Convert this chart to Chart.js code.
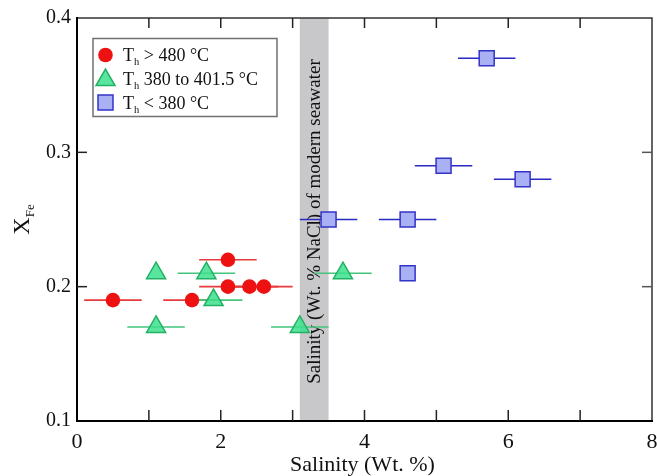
<!DOCTYPE html>
<html>
<head>
<meta charset="utf-8">
<script src="https://cdn.jsdelivr.net/npm/chart.js@4.4.1/dist/chart.umd.min.js"></script>
<style>
html,body{margin:0;padding:0;background:#fff;}
canvas{display:block;}
</style>
</head>
<body>
<canvas id="c" width="657" height="476"></canvas>
<script>
// ---- Data ----
const redX   = [0.5, 1.6, 2.1, 2.1, 2.4, 2.6];
const redY   = [0.19, 0.19, 0.22, 0.20, 0.20, 0.20];
const redErr = [0.4, 0.4, 0.4, 0.4, 0.4, 0.4];

const greenX   = [1.1, 1.8, 1.1, 1.9, 3.1, 3.7];
const greenY   = [0.21, 0.21, 0.17, 0.19, 0.17, 0.21];
const greenErr = [0, 0.4, 0.4, 0.4, 0.4, 0.4];

const blueX   = [5.7, 5.1, 6.2, 3.5, 4.6, 4.6];
const blueY   = [0.37, 0.29, 0.28, 0.25, 0.25, 0.21];
const blueErr = [0.4, 0.4, 0.4, 0.4, 0.4, 0];

const seawaterBand = [3.1, 3.5];
const xTicks = [0, 2, 4, 6, 8];
const yTicks = [0.1, 0.2, 0.3, 0.4];
const legendLabels = [["T", "h", " > 480 °C"], ["T", "h", " 380 to 401.5 °C"], ["T", "h", " < 380 °C"]];
const bandLabel = "Salinity (Wt. % NaCl) of modern seawater";
const xTitle = "Salinity (Wt. %)";

const SERIF = '"Liberation Serif", "Times New Roman", serif';

const RED = '#ee1111', GREEN_F = 'rgba(60,225,140,0.85)', GREEN_L = '#22b064', GREEN_BAR = '#44c47c';
const BLUE_F = '#aab0f4', BLUE_L = '#3333c8';

function pts(xs, ys){ return xs.map((x,i)=>({x:x, y:ys[i]})); }

const errSets = [
  {xs:redX, ys:redY, e:redErr, color:'#e83a3a'},
  {xs:greenX, ys:greenY, e:greenErr, color:GREEN_BAR},
  {xs:blueX, ys:blueY, e:blueErr, color:'#2a2ac4'}
];

function drawMarker(ctx, style, x, y){
  ctx.save();
  if(style==='circle'){
    ctx.beginPath(); ctx.arc(x,y,7.3,0,Math.PI*2); ctx.fillStyle=RED; ctx.fill();
  } else if(style==='triangle'){
    const r=11;
    ctx.beginPath();
    ctx.moveTo(x, y-r);
    ctx.lineTo(x+r*Math.sin(Math.PI/3), y+r*0.5);
    ctx.lineTo(x-r*Math.sin(Math.PI/3), y+r*0.5);
    ctx.closePath();
    ctx.fillStyle=GREEN_F; ctx.fill(); ctx.lineWidth=1.5; ctx.strokeStyle=GREEN_L; ctx.stroke();
  } else {
    const h=7.5;
    ctx.fillStyle=BLUE_F; ctx.fillRect(x-h,y-h,2*h,2*h);
    ctx.lineWidth=1.5; ctx.strokeStyle=BLUE_L; ctx.strokeRect(x-h,y-h,2*h,2*h);
  }
  ctx.restore();
}

const overlay = {
  id: 'overlay',
  beforeDatasetsDraw(chart){
    const {ctx, chartArea:a, scales:{x, y}} = chart;
    ctx.save();
    // seawater band
    const x0 = x.getPixelForValue(seawaterBand[0]), x1 = x.getPixelForValue(seawaterBand[1]);
    ctx.fillStyle = '#c8c8ca';
    ctx.fillRect(x0, a.top, x1-x0, a.bottom-a.top);
    // band label
    ctx.save();
    ctx.translate((x0+x1)/2 + 0.5, (a.top+a.bottom)/2 + 2);
    ctx.rotate(-Math.PI/2);
    ctx.font = '19px ' + SERIF;
    ctx.fillStyle = '#111';
    ctx.textAlign = 'center';
    ctx.textBaseline = 'middle';
    ctx.fillText(bandLabel, 0, 0);
    ctx.restore();
    // error bars
    ctx.lineWidth = 1.6;
    errSets.forEach(s=>{
      ctx.strokeStyle = s.color;
      s.xs.forEach((xv,i)=>{
        if(!s.e[i]) return;
        const py = y.getPixelForValue(s.ys[i]);
        ctx.beginPath();
        ctx.moveTo(x.getPixelForValue(xv - s.e[i]), py);
        ctx.lineTo(x.getPixelForValue(xv + s.e[i]), py);
        ctx.stroke();
      });
    });
    ctx.restore();
  },
  afterDatasetsDraw(chart){
    const {ctx, chartArea:a, scales:{x, y}} = chart;
    ctx.save();
    // frame
    ctx.strokeStyle = '#333'; ctx.lineWidth = 1.5;
    ctx.beginPath();
    ctx.moveTo(a.left, a.top); ctx.lineTo(a.right, a.top); ctx.lineTo(a.right, a.bottom);
    ctx.stroke();
    ctx.strokeStyle = '#000'; ctx.lineWidth = 2;
    ctx.beginPath();
    ctx.moveTo(a.left, a.top-1); ctx.lineTo(a.left, a.bottom); ctx.lineTo(a.right+1, a.bottom);
    ctx.stroke();
    // ticks
    ctx.lineWidth = 1.5; ctx.strokeStyle = '#222';
    for(let v=1; v<8; v++){
      const px = x.getPixelForValue(v);
      ctx.beginPath(); ctx.moveTo(px, a.bottom); ctx.lineTo(px, a.bottom-11); ctx.stroke();
      ctx.beginPath(); ctx.moveTo(px, a.top); ctx.lineTo(px, a.top+10); ctx.stroke();
    }
    [0.2, 0.3].forEach(v=>{
      const py = y.getPixelForValue(v);
      ctx.strokeStyle = '#222';
      ctx.beginPath(); ctx.moveTo(a.left, py); ctx.lineTo(a.left+10, py); ctx.stroke();
      ctx.strokeStyle = '#555';
      ctx.beginPath(); ctx.moveTo(a.right, py); ctx.lineTo(a.right-10, py); ctx.stroke();
    });
    // x tick labels
    ctx.fillStyle = '#111';
    ctx.font = '22px ' + SERIF;
    ctx.textAlign = 'center'; ctx.textBaseline = 'middle';
    xTicks.forEach(v=>{
      ctx.fillText(String(v), x.getPixelForValue(v), a.bottom + 21);
    });
    // legend
    ctx.strokeStyle = '#707070'; ctx.lineWidth = 1.5;
    ctx.strokeRect(93, 38.5, 184, 78);
    const styles = ['circle','triangle','rect'];
    const rowsY = [55, 79, 102.5];
    legendLabels.forEach((lab,i)=>{
      drawMarker(ctx, styles[i], 105.5, rowsY[i] + (i===1?1:0));
      let tx = 123;
      const base = rowsY[i] + 6;
      ctx.fillStyle = '#111';
      ctx.textBaseline = 'alphabetic'; ctx.textAlign = 'left';
      ctx.font = '18px ' + SERIF;
      ctx.fillText(lab[0], tx, base); tx += ctx.measureText(lab[0]).width;
      ctx.font = '10.5px ' + SERIF;
      ctx.fillText(lab[1], tx, base + 4); tx += ctx.measureText(lab[1]).width;
      ctx.font = '18px ' + SERIF;
      ctx.fillText(lab[2], tx, base);
    });
    // x title
    ctx.font = '22px ' + SERIF;
    ctx.textAlign = 'center'; ctx.textBaseline = 'alphabetic';
    ctx.fillText(xTitle, (a.left+a.right)/2 - 2, 471);
    // y title X_Fe
    ctx.save();
    ctx.translate(29, (a.top+a.bottom)/2);
    ctx.rotate(-Math.PI/2);
    ctx.textAlign = 'left';
    ctx.font = '24px ' + SERIF;
    const wX = ctx.measureText('X').width;
    ctx.font = '13px ' + SERIF;
    const wF = ctx.measureText('Fe').width;
    const start = -(wX + wF)/2;
    ctx.font = '24px ' + SERIF;
    ctx.fillText('X', start, 0);
    ctx.font = '13px ' + SERIF;
    ctx.fillText('Fe', start + wX, 5);
    ctx.restore();
    ctx.restore();
  }
};

new Chart(document.getElementById('c'), {
  type: 'scatter',
  data: {
    datasets: [
      {label:'Th > 480 °C', data: pts(redX, redY), pointStyle:'circle', pointRadius:7.3,
       backgroundColor: RED, borderColor: RED, borderWidth: 0},
      {label:'Th 380 to 401.5 °C', data: pts(greenX, greenY), pointStyle:'triangle', pointRadius:11,
       backgroundColor: GREEN_F, borderColor: GREEN_L, borderWidth: 1.5},
      {label:'Th < 380 °C', data: pts(blueX, blueY), pointStyle:'rect', pointRadius:10.6,
       backgroundColor: BLUE_F, borderColor: BLUE_L, borderWidth: 1.5}
    ]
  },
  options: {
    responsive: false,
    animation: false,
    events: [],
    layout: {autoPadding: false, padding: {top: 17, right: 5, left: 0, bottom: 0}},
    plugins: {legend: {display: false}, tooltip: {enabled: false}},
    scales: {
      x: {
        type: 'linear', min: 0, max: 8,
        afterBuildTicks: s => { s.ticks = xTicks.map(v=>({value:v})); },
        ticks: {display: false},
        grid: {display: false, drawTicks: false},
        border: {display: false},
        afterFit: s => { s.height = 55; }
      },
      y: {
        type: 'linear', min: 0.1, max: 0.4,
        afterBuildTicks: s => { s.ticks = yTicks.map(v=>({value:v})); },
        ticks: {font: {family: SERIF, size: 20}, color: '#111', padding: 6,
                callback: v => v.toFixed(1)},
        grid: {display: false, drawTicks: false},
        border: {display: false},
        afterFit: s => { s.width = 77; }
      }
    }
  },
  plugins: [overlay]
});
</script>
</body>
</html>
